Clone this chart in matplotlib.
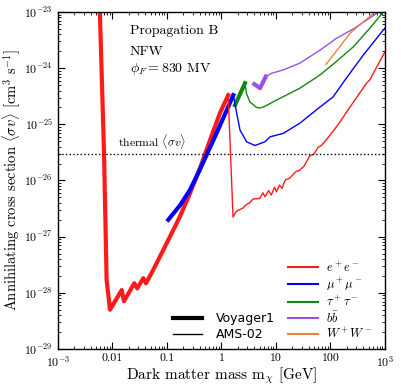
import numpy as np
import matplotlib
matplotlib.use('Agg')
import matplotlib.pyplot as plt
from matplotlib.lines import Line2D

plt.rcParams['font.family'] = 'serif'
plt.rcParams['font.serif'] = ['cmr10', 'DejaVu Serif']
plt.rcParams['mathtext.fontset'] = 'cm'
plt.rcParams['axes.formatter.use_mathtext'] = True
plt.rcParams['axes.unicode_minus'] = False

# Voyager1 limits (thick lines)
voy_ee_m = [0.0058, 0.0070, 0.0078, 0.0090, 0.01476, 0.01626, 0.0251, 0.0285, 0.0367, 0.0412,
            0.0561, 0.080, 0.1135, 0.173, 0.264, 0.403, 0.615, 0.94, 1.33]
voy_ee_sv = [1.5e-23, 3.0e-26, 1.7e-28, 5.0e-29, 1.12e-28, 7.1e-29, 1.48e-28, 1.2e-28, 1.82e-28, 1.48e-28,
             2.57e-28, 5.1e-28, 1.0e-27, 2.28e-27, 5.9e-27, 1.65e-26, 5.2e-26, 1.6e-25, 3.3e-25]
voy_mu_m = [0.1057, 0.173, 0.264, 0.40, 0.81, 1.65]
voy_mu_sv = [2.0e-27, 3.6e-27, 6.8e-27, 1.55e-26, 6.9e-26, 3.3e-25]
voy_tau_m = [1.77, 2.7]
voy_tau_sv = [2.2e-25, 5.4e-25]
voy_bb_m = [4.0, 5.1, 6.5]
voy_bb_sv = [5.2e-25, 4.4e-25, 7.1e-25]

# AMS-02 limits (thin lines)
ams_ee_m = [1.33, 1.63, 1.87, 2.48, 2.85, 3.29, 3.78, 5.01, 5.77, 6.31, 7.33, 8.20, 9.44, 10.2, 11.6, 12.9,
            14.8, 17.8, 23.4, 26.9, 33.1, 41.7, 50.1, 58.9, 67.6, 83.2, 130, 229, 457, 525, 1000]
ams_ee_sv = [3.1e-25, 2.24e-27, 2.82e-27, 3.24e-27, 3.72e-27, 3.98e-27, 4.68e-27, 4.79e-27, 6.03e-27, 5.13e-27,
             6.61e-27, 5.50e-27, 7.59e-27, 6.31e-27, 8.32e-27, 7.24e-27, 1.02e-26, 1.10e-26, 1.45e-26, 1.51e-26,
             1.82e-26, 2.75e-26, 2.95e-26, 3.89e-26, 4.17e-26, 5.25e-26, 9.12e-26, 2.04e-25, 5.37e-25, 6.17e-25,
             1.95e-24]
ams_mu_m = [1.65, 1.9, 2.19, 2.89, 4.1, 6.3, 7.8, 13.6, 27.5, 55.7, 112, 186, 398, 1000]
ams_mu_sv = [3.3e-25, 1.6e-25, 7.9e-26, 4.9e-26, 4.2e-26, 4.9e-26, 6.0e-26, 6.9e-26, 1.05e-25, 1.82e-25,
             3.09e-25, 6.2e-25, 1.7e-24, 5.2e-24]
ams_tau_m = [2.7, 2.89, 3.33, 4.4, 5.1, 6.3, 10.2, 27.5, 64.6, 129, 263, 525, 933]
ams_tau_sv = [5.4e-25, 3.5e-25, 2.5e-25, 2.0e-25, 1.95e-25, 2.1e-25, 2.7e-25, 4.4e-25, 7.6e-25, 1.32e-24,
              2.4e-24, 5.1e-24, 1.0e-23]
ams_bb_m = [6.5, 8.3, 13.6, 27.5, 64.6, 129, 263, 525, 760]
ams_bb_sv = [7.1e-25, 8.1e-25, 9.3e-25, 1.23e-24, 2.1e-24, 3.4e-24, 5.0e-24, 7.8e-24, 1.0e-23]
ams_ww_m = [83, 148, 229, 316, 660]
ams_ww_sv = [1.17e-24, 2.4e-24, 4.2e-24, 5.5e-24, 1.0e-23]

thermal_sv = 3e-26

channels = [r'$e^+e^-$', r'$\mu^+\mu^-$', r'$\tau^+\tau^-$', r'$b\bar{b}$', r'$W^+W^-$']
colors = ['#ff1a1a', '#0000ff', '#118811', '#9d52e6', '#e8843c']

xticks = [1e-3, 1e-2, 1e-1, 1, 10, 100, 1e3]
xticklabels = [r'$10^{-3}$', '0.01', '0.1', '1', '10', '100', r'$10^{3}$']
yticks = [1e-29, 1e-28, 1e-27, 1e-26, 1e-25, 1e-24, 1e-23]

fig = plt.figure(figsize=(4.01, 3.92), dpi=100)
ax = fig.add_axes([0.1446, 0.1097, 0.8154, 0.8597])

# thick = Voyager1, thin = AMS-02
ax.plot(voy_ee_m, voy_ee_sv, color=colors[0], lw=3)
ax.plot(voy_mu_m, voy_mu_sv, color=colors[1], lw=3)
ax.plot(voy_tau_m, voy_tau_sv, color=colors[2], lw=3)
ax.plot(voy_bb_m, voy_bb_sv, color=colors[3], lw=3)

ax.plot(ams_ee_m, ams_ee_sv, color=colors[0], lw=1)
ax.plot(ams_mu_m, ams_mu_sv, color=colors[1], lw=1)
ax.plot(ams_tau_m, ams_tau_sv, color=colors[2], lw=1)
ax.plot(ams_bb_m, ams_bb_sv, color=colors[3], lw=1)
ax.plot(ams_ww_m, ams_ww_sv, color=colors[4], lw=1)

ax.axhline(thermal_sv, color='black', ls=':', lw=1)
ax.text(0.0125, thermal_sv * 1.12, r'thermal $\langle\sigma v\rangle$', fontsize=8.5, va='bottom')

ax.text(0.021, 4e-24, 'Propagation B', fontsize=10)
ax.text(0.021, 1.75e-24, 'NFW', fontsize=10)
ax.text(0.021, 8.5e-25, r'$\phi_F = 830$ MV', fontsize=10)

ax.set_xscale('log')
ax.set_yscale('log')
ax.set_xticks(xticks)
ax.set_xticklabels(xticklabels)
ax.set_yticks(yticks)
ax.set_xlim(1e-3, 1e3)
ax.set_ylim(1e-29, 1e-23)
ax.tick_params(which='both', direction='in', top=True, right=True, labelsize=8.5)
ax.tick_params(which='major', length=5)
ax.tick_params(which='minor', length=2.5)
for s in ax.spines.values():
    s.set_linewidth(1.0)

ax.set_xlabel(r'Dark matter mass m$_\chi$ [GeV]', fontsize=11)
ax.xaxis.set_label_coords(0.5, -0.048)
ax.xaxis.label.set_va('top')
ax.set_ylabel(r'Annihilating cross section $\langle\sigma v\rangle$ [cm$^3$ s$^{-1}$]', fontsize=10.5)
ax.yaxis.set_label_coords(-0.106, 0.5)

# legend for experiments
exp_handles = [Line2D([], [], color='black', lw=3), Line2D([], [], color='black', lw=1)]
leg1 = ax.legend(exp_handles, ['Voyager1', 'AMS-02'], loc='lower left', bbox_to_anchor=(0.352, 0.024),
                 frameon=False, borderpad=0, borderaxespad=0, handlelength=2.3, handletextpad=1.1,
                 labelspacing=0.22, prop={'family': 'DejaVu Sans', 'size': 9})
ax.add_artist(leg1)

chan_handles = [Line2D([], [], color=c, lw=1.5) for c in colors]
ax.legend(chan_handles, channels, loc='lower left', bbox_to_anchor=(0.703, 0.024),
          frameon=False, borderpad=0, borderaxespad=0, handlelength=2.4, handletextpad=0.65,
          labelspacing=0.1, fontsize=9)

fig.savefig('out.png', dpi=100)
